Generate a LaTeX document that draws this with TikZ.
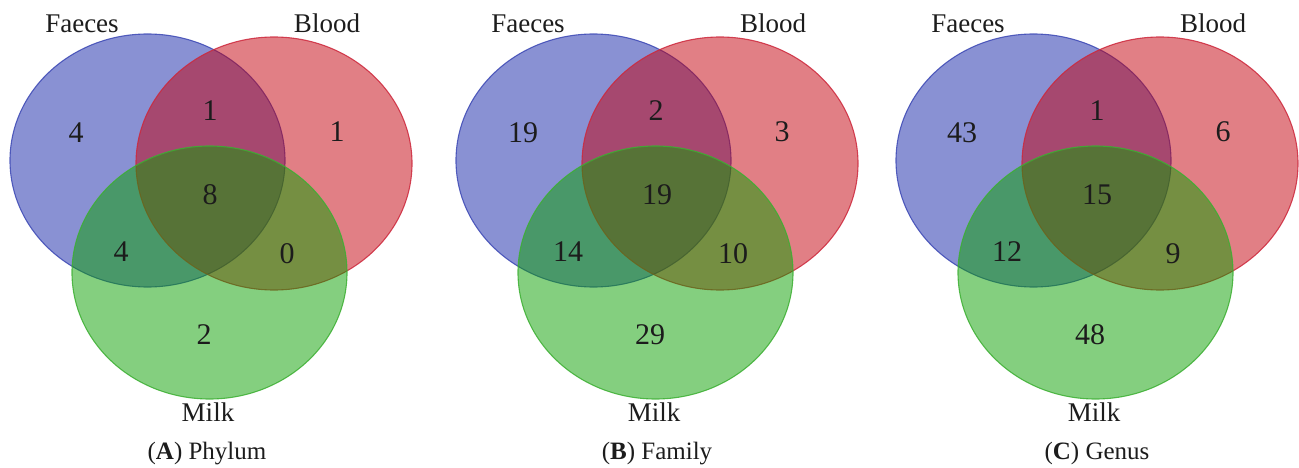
\documentclass[tikz,border=0pt]{standalone}
\usepackage{fontspec}
\setmainfont{Liberation Serif}
\definecolor{vblue}{RGB}{20,36,168}
\definecolor{vred}{RGB}{196,0,12}
\definecolor{vgreen}{RGB}{10,160,0}
\definecolor{lblue}{RGB}{60,72,180}
\definecolor{lred}{RGB}{205,40,60}
\definecolor{lgreen}{RGB}{60,175,50}
\definecolor{txt}{RGB}{28,28,28}
\tikzset{
  setfill/.style={fill opacity=0.5, draw opacity=0.85, line width=1.1pt},
  bluefill/.style={setfill, fill=vblue, draw=lblue},
  redfill/.style={setfill, fill=vred, draw=lred},
  greenfill/.style={setfill, fill=vgreen, draw=lgreen},
  setlabel/.style={anchor=base, inner sep=0pt, text=txt, font=\fontsize{27}{30}\selectfont},
  count/.style={anchor=center, inner sep=0pt, text=txt, font=\fontsize{30}{33}\selectfont},
  caption/.style={anchor=base, inner sep=0pt, text=txt, font=\fontsize{25}{30}\selectfont}
}
\begin{document}
\begin{tikzpicture}[x=1pt, y=-1pt]
\useasboundingbox (0,0) rectangle (1299,468);
% ---------------- Panel A ----------------
\begin{scope}[xshift=0pt]
  \path[bluefill] (147.5,160.5) ellipse [x radius=137.5, y radius=126.5];
  \path[redfill] (274,163.5) ellipse [x radius=138, y radius=126.5];
  \path[greenfill] (209.5,272.5) ellipse [x radius=137.5, y radius=126.5];
  \node[setlabel] (fA) at (82,33) {Faeces};
  \node[setlabel] (bA) at (327,33) {Blood};
  \node[setlabel] (mA) at (208,421) {Milk};
  \node[count] (nA1) at (76,133) {4};
  \node[count] (nA2) at (210,111) {1};
  \node[count] (nA3) at (337,132) {1};
  \node[count] (nA4) at (210,195) {8};
  \node[count] (nA5) at (121,252) {4};
  \node[count] (nA6) at (287,254) {0};
  \node[count] (nA7) at (204,335) {2};
  \node[caption] (cA) at (207,459) {(\textbf{A}) Phylum};
\end{scope}
% ---------------- Panel B ----------------
\begin{scope}[xshift=446pt]
  \path[bluefill] (147.5,160.5) ellipse [x radius=137.5, y radius=126.5];
  \path[redfill] (274,163.5) ellipse [x radius=138, y radius=126.5];
  \path[greenfill] (209.5,272.5) ellipse [x radius=137.5, y radius=126.5];
  \node[setlabel] (fB) at (82,33) {Faeces};
  \node[setlabel] (bB) at (327,33) {Blood};
  \node[setlabel] (mB) at (208,421) {Milk};
  \node[count] (nB1) at (77,133) {19};
  \node[count] (nB2) at (210,111) {2};
  \node[count] (nB3) at (336,132) {3};
  \node[count] (nB4) at (211,195) {19};
  \node[count] (nB5) at (122,252) {14};
  \node[count] (nB6) at (287,254) {10};
  \node[count] (nB7) at (204,335) {29};
  \node[caption] (cB) at (211,459) {(\textbf{B}) Family};
\end{scope}
% ---------------- Panel C ----------------
\begin{scope}[xshift=886pt]
  \path[bluefill] (147.5,160.5) ellipse [x radius=137.5, y radius=126.5];
  \path[redfill] (274,163.5) ellipse [x radius=138, y radius=126.5];
  \path[greenfill] (209.5,272.5) ellipse [x radius=137.5, y radius=126.5];
  \node[setlabel] (fC) at (82,33) {Faeces};
  \node[setlabel] (bC) at (327,33) {Blood};
  \node[setlabel] (mC) at (208,421) {Milk};
  \node[count] (nC1) at (76,133) {43};
  \node[count] (nC2) at (211,111) {1};
  \node[count] (nC3) at (337,132) {6};
  \node[count] (nC4) at (211,195) {15};
  \node[count] (nC5) at (121,252) {12};
  \node[count] (nC6) at (287,254) {9};
  \node[count] (nC7) at (204,335) {48};
  \node[caption] (cC) at (211,459) {(\textbf{C}) Genus};
\end{scope}
\end{tikzpicture}
\end{document}
